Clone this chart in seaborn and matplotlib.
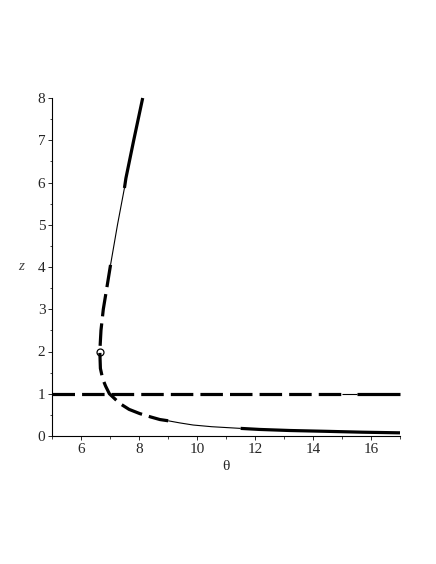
import matplotlib
matplotlib.use("Agg")
import matplotlib.pyplot as plt
import numpy as np
import seaborn as sns

# curve points (theta, z), from top end down to the right
theta = [8.12, 7.81, 7.54, 7.49, 7.25, 7.01, 6.88, 6.76, 6.68, 6.64, 6.66, 6.74,
         6.84, 6.97, 7.33, 7.65, 8.02, 8.40, 8.71, 9.00, 9.40, 9.86, 10.5, 11.0,
         11.5, 12.16, 13.2, 14.5, 15.7, 17.0]
z = [8.0, 7.0, 6.1, 5.87, 5.0, 4.05, 3.5, 3.0, 2.5, 2.0, 1.6, 1.35,
     1.18, 1.0, 0.77, 0.63, 0.53, 0.45, 0.39, 0.36, 0.31, 0.26, 0.22, 0.20,
     0.18, 0.155, 0.13, 0.11, 0.09, 0.075]

# horizontal line z = 1
hline_theta = [5.0, 15.0, 15.5, 17.0]
hline_z = [1.0, 1.0, 1.0, 1.0]

# marked point
pt_theta = [6.64]
pt_z = [2.0]

x_major = [6, 8, 10, 12, 14, 16]
y_major = [0, 1, 2, 3, 4, 5, 6, 7, 8]

sns.set_style("ticks")
plt.rcParams['font.family'] = ['Liberation Serif', 'DejaVu Serif']
plt.rcParams['lines.scale_dashes'] = False
plt.rcParams['lines.solid_capstyle'] = 'butt'
plt.rcParams['lines.dash_capstyle'] = 'butt'

fig = plt.figure(figsize=(4.36, 5.64), dpi=100)
ax = fig.add_axes([52.3 / 436, 1 - 436 / 564, (400 - 52.3) / 436, (436 - 98) / 564])

thick = 2.3
thin = 0.8
dash = (0, (16.2, 5.1))

# (start, end, width, style) slices of the curve
segments = [(0, 3, thick, '-'), (3, 5, thin, '-'), (5, 19, thick, dash),
            (19, 24, thin, '-'), (24, len(theta) - 1, thick, '-')]
for a, b, lw, ls in segments:
    sns.lineplot(x=theta[a:b + 1], y=z[a:b + 1], ax=ax, sort=False, estimator=None,
                 color='black', linewidth=lw, linestyle=ls, clip_on=False)

# z = 1 line
sns.lineplot(x=hline_theta[0:2], y=hline_z[0:2], ax=ax, sort=False, estimator=None,
             color='black', linewidth=thick, linestyle=dash)
sns.lineplot(x=hline_theta[1:3], y=hline_z[1:3], ax=ax, sort=False, estimator=None,
             color='black', linewidth=thin)
sns.lineplot(x=hline_theta[2:4], y=hline_z[2:4], ax=ax, sort=False, estimator=None,
             color='black', linewidth=thick, clip_on=False)

ax.plot(pt_theta, pt_z, 'o', markersize=5, markerfacecolor='none',
        markeredgecolor='black', markeredgewidth=0.9)

ax.set_xlim(5, 17)
ax.set_ylim(0, 8)
ax.set_xticks(x_major)
ax.set_xticks(np.arange(5, 18, 1), minor=True)
ax.set_yticks(y_major)
ax.set_yticks(np.arange(0, 8.01, 0.5), minor=True)
ax.tick_params(which='major', direction='out', length=3, width=0.7, labelsize=11, pad=2)
ax.tick_params(which='minor', direction='out', length=1.8, width=0.6)

for side in ['top', 'right']:
    ax.spines[side].set_visible(False)
for side in ['left', 'bottom']:
    ax.spines[side].set_linewidth(0.8)
    ax.spines[side].set_color('black')

ax.set_xlabel('θ', fontsize=11, labelpad=3)
ax.set_ylabel('z', fontsize=11, style='italic', rotation=0, labelpad=12, va='center', color='#444444')

fig.savefig('out.png', dpi=100)
